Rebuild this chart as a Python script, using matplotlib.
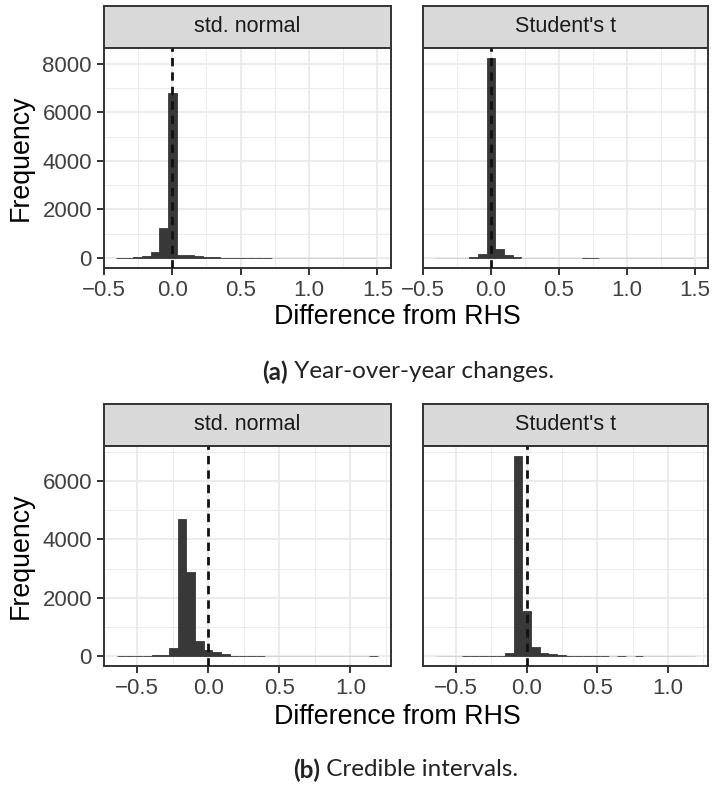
import numpy as np
import matplotlib
matplotlib.use("Agg")
import matplotlib.pyplot as plt
from matplotlib.ticker import FixedLocator, FuncFormatter

# ---- data -----------------------------------------------------------------
facets = ["std. normal", "Student's t"]

# (a) year-over-year changes: 30 bins centred on multiples of the bin width
yoy_bin_width = 0.0635
yoy_first_bin = -6
yoy_normal = [5, 5, 20, 80, 250, 1210, 6820, 125, 125, 55, 30, 25, 8, 6, 5,
              4, 3, 3, 0, 0, 0, 0, 0, 0, 0, 0, 0, 0, 0, 0]
yoy_student = [0, 0, 0, 0, 15, 170, 8250, 380, 120, 25, 0, 0, 0, 0, 0,
               0, 0, 2, 2, 0, 0, 0, 0, 0, 0, 0, 0, 0, 0, 0]

# (b) credible intervals
ci_bin_width = 0.0612
ci_first_bin = -10
ci_normal = [3, 4, 5, 8, 35, 40, 275, 4700, 2880, 515, 205, 120, 80, 5, 4,
             3, 3, 0, 0, 0, 0, 0, 0, 0, 0, 0, 0, 0, 0, 2]
ci_student = [0, 0, 0, 3, 3, 4, 5, 15, 100, 6870, 1540, 310, 115, 70, 35,
              4, 3, 3, 2, 2, 0, 2, 0, 2, 0, 0, 0, 0, 0, 0]

yoy_xticks = [-0.5, 0.0, 0.5, 1.0, 1.5]
yoy_yticks = [0, 2000, 4000, 6000, 8000]
ci_xticks = [-0.5, 0.0, 0.5, 1.0]
ci_yticks = [0, 2000, 4000, 6000]

xlabel = "Difference from RHS"
ylabel = "Frequency"
captions = [("(a)", "Year-over-year changes."), ("(b)", "Credible intervals.")]

# ---- style -----------------------------------------------------------------
W, H = 712, 787
plt.rcParams["font.family"] = ["Liberation Sans", "DejaVu Sans"]

BAR = "#383838"
ZERO = "#cccccc"
GRID = "#ebebeb"
BORDER = "#333333"
STRIP = "#d9d9d9"
TICKTXT = "#404040"


def box(x0, y0, x1, y1):
    # pixel box (top-left origin) -> figure fraction
    return [x0 / W, 1 - y1 / H, (x1 - x0) / W, (y1 - y0) / H]


def fmt_x(v, _):
    return f"{v:.1f}".replace("-", "\u2212")


def draw_panel(ax, counts, width, first, xlim, ylim, xticks, yticks, show_y):
    centers = (np.arange(len(counts)) + first) * width
    edges = [BAR if c > 0 else ZERO for c in counts]
    ax.bar(centers, counts, width=width, color=BAR, edgecolor=edges,
           linewidth=0.6, zorder=2)
    ax.axvline(0, color="#111111", lw=2.0, ls=(0, (3, 2.2)), zorder=3)

    ax.set_xlim(*xlim)
    ax.set_ylim(*ylim)
    ax.xaxis.set_major_locator(FixedLocator(xticks))
    ax.yaxis.set_major_locator(FixedLocator(yticks))
    ax.xaxis.set_minor_locator(FixedLocator(
        [(a + b) / 2 for a, b in zip(xticks[:-1], xticks[1:])]
        + [xticks[-1] + 0.25, xticks[0] - 0.25]))
    ax.yaxis.set_minor_locator(FixedLocator(
        [(a + b) / 2 for a, b in zip(yticks[:-1], yticks[1:])]
        + [yticks[-1] + 1000]))
    ax.xaxis.set_major_formatter(FuncFormatter(fmt_x))
    ax.yaxis.set_major_formatter(FuncFormatter(lambda v, _: f"{int(v)}"))

    ax.set_axisbelow(True)
    ax.grid(which="major", color=GRID, lw=1.4)
    ax.grid(which="minor", color=GRID, lw=0.7)
    ax.tick_params(which="major", length=5, width=1.4, color=BORDER,
                   labelsize=16, labelcolor=TICKTXT, pad=3.5)
    ax.tick_params(which="minor", length=0)
    if not show_y:
        ax.tick_params(axis="y", left=False, labelleft=False)
    for s in ax.spines.values():
        s.set_color(BORDER)
        s.set_linewidth(1.4)


def draw_strip(ax, label):
    ax.set_facecolor(STRIP)
    ax.set_xticks([])
    ax.set_yticks([])
    for s in ax.spines.values():
        s.set_color(BORDER)
        s.set_linewidth(1.4)
    ax.text(0.5, 0.5, label, ha="center", va="center", fontsize=15.5,
            color="#1a1a1a", transform=ax.transAxes)


fig = plt.figure(figsize=(W / 100, H / 100), dpi=100)

cols = [(103.7, 390.7), (422.7, 708.3)]
rows = [
    dict(strip=(5.7, 47.7), panel=(47.7, 268), data=[yoy_normal, yoy_student],
         width=yoy_bin_width, first=yoy_first_bin, xlim=(-0.502, 1.598),
         ylim=(-420, 8670), xticks=yoy_xticks, yticks=yoy_yticks,
         xlab_y=317, cap_y=372),
    dict(strip=(404, 446), panel=(446, 665.7), data=[ci_normal, ci_student],
         width=ci_bin_width, first=ci_first_bin, xlim=(-0.7345, 1.2845),
         ylim=(-333, 7204), xticks=ci_xticks, yticks=ci_yticks,
         xlab_y=717, cap_y=770),
]

cap_texts = []
for r, row in enumerate(rows):
    for c, (x0, x1) in enumerate(cols):
        sax = fig.add_axes(box(x0, row["strip"][0], x1, row["strip"][1]))
        draw_strip(sax, facets[c])
        pax = fig.add_axes(box(x0, row["panel"][0], x1, row["panel"][1]))
        draw_panel(pax, row["data"][c], row["width"], row["first"],
                   row["xlim"], row["ylim"], row["xticks"], row["yticks"],
                   show_y=(c == 0))
    py = (row["panel"][0] + row["panel"][1]) / 2
    fig.text(21 / W, 1 - py / H, ylabel, rotation=90, ha="center",
             va="center", fontsize=19.3)
    fig.text(397 / W, 1 - row["xlab_y"] / H, xlabel, ha="center",
             va="center", fontsize=19.3)
    bold, rest = captions[r]
    t1 = fig.text(0, 1 - row["cap_y"] / H, bold, fontsize=17.5,
                  fontweight="bold", family=["Lato", "DejaVu Sans"],
                  va="center", ha="left", color="#222222")
    t2 = fig.text(0, 1 - row["cap_y"] / H, " " + rest, fontsize=17.5,
                  family=["Lato", "DejaVu Sans"], va="center", ha="left",
                  color="#222222")
    cap_texts.append((t1, t2, [408, 406][r]))

# centre each caption on its measured position
fig.canvas.draw()
rend = fig.canvas.get_renderer()
for t1, t2, cx in cap_texts:
    w1 = t1.get_window_extent(rend).width
    w2 = t2.get_window_extent(rend).width
    left = cx - (w1 + w2) / 2
    t1.set_x(left / W)
    t2.set_x((left + w1) / W)

fig.savefig("out.png", dpi=100)
